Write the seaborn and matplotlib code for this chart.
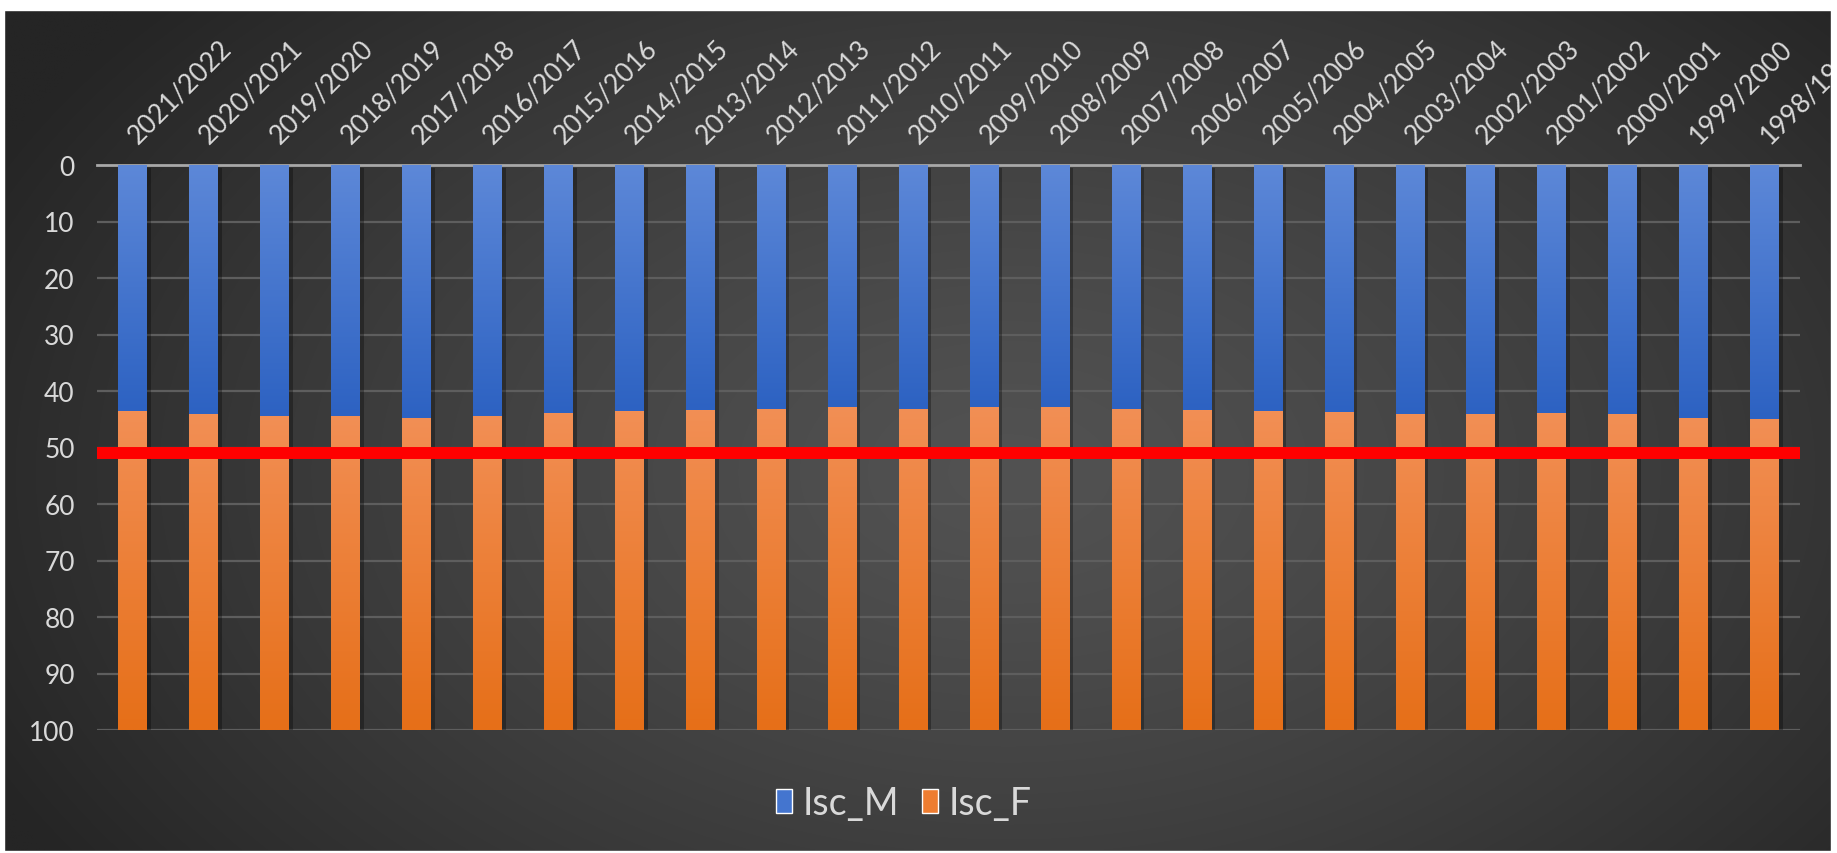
import numpy as np
import pandas as pd
import matplotlib
matplotlib.use("Agg")
import matplotlib.pyplot as plt
import seaborn as sns
from matplotlib.patches import Patch, Rectangle
from matplotlib.colors import LinearSegmentedColormap
import matplotlib.patheffects as pe

# Academic years (most recent first) and share of enrolments by sex (%)
years = ["2021/2022", "2020/2021", "2019/2020", "2018/2019", "2017/2018",
         "2016/2017", "2015/2016", "2014/2015", "2013/2014", "2012/2013",
         "2011/2012", "2010/2011", "2009/2010", "2008/2009", "2007/2008",
         "2006/2007", "2005/2006", "2004/2005", "2003/2004", "2002/2003",
         "2001/2002", "2000/2001", "1999/2000", "1998/1999"]
isc_m = [43.6, 44.1, 44.4, 44.4, 44.7, 44.4, 43.9, 43.6, 43.4, 43.1,
         42.8, 43.1, 42.8, 42.8, 43.1, 43.4, 43.6, 43.8, 44.1, 44.1,
         43.9, 44.1, 44.7, 44.9]
isc_f = [56.4, 55.9, 55.6, 55.6, 55.3, 55.6, 56.1, 56.4, 56.6, 56.9,
         57.2, 56.9, 57.2, 57.2, 56.9, 56.6, 56.4, 56.2, 55.9, 55.9,
         56.1, 55.9, 55.3, 55.1]
parity_level = 50.9
y_ticks = list(range(0, 101, 10))

W, H = 1837, 854
BLUE, ORANGE = "#4475cf", "#ee7d31"
TEXT = "#d9d9d9"

sns.set_theme(style="dark")
plt.rcParams["font.family"] = ["Lato", "DejaVu Sans"]

fig = plt.figure(figsize=(W / 100, H / 100), dpi=100)
fig.patch.set_facecolor("white")

# dark radial-gradient chart area
bg = fig.add_axes([4 / W, 2 / H, (W - 10) / W, (H - 13) / H], zorder=-5)
yy, xx = np.mgrid[0:1:300j, 0:1:600j]
r = np.sqrt(((xx - 0.55) / 0.62) ** 2 + ((yy - 0.45) / 0.85) ** 2)
t = np.clip(r, 0, 1) ** 1.3
c_in, c_out = np.array([0x52, 0x52, 0x52]) / 255, np.array([0x25, 0x25, 0x25]) / 255
img = c_in[None, None, :] * (1 - t[..., None]) + c_out[None, None, :] * t[..., None]
bg.imshow(img, aspect="auto", extent=(0, 1, 0, 1), origin="lower", interpolation="bilinear")
bg.set_axis_off()

ax = fig.add_axes([97 / W, 1 - 731 / H, 1703 / W, 565 / H])
ax.set_facecolor("none")

df = pd.DataFrame({"year": years, "Isc_M": isc_m, "Isc_F": isc_f})
df["total"] = df["Isc_M"] + df["Isc_F"]

sns.barplot(data=df, x="year", y="total", color=ORANGE, saturation=1,
            width=0.40, ax=ax, zorder=2, linewidth=0)
sns.barplot(data=df, x="year", y="Isc_M", color=BLUE, saturation=1,
            width=0.40, ax=ax, zorder=3, linewidth=0)

cm_f = LinearSegmentedColormap.from_list("f", ["#f28f55", "#e66f18"])
cm_m = LinearSegmentedColormap.from_list("m", ["#5d88d8", "#2d62c2"])
grad = np.linspace(0, 1, 256).reshape(-1, 1)

for patch, m, f in zip(ax.containers[0], isc_m, isc_f):
    patch.set_path_effects([pe.SimplePatchShadow(offset=(3, -2), shadow_rgbFace="black", alpha=0.3), pe.Normal()])
    x0, w = patch.get_x(), patch.get_width()
    im = ax.imshow(grad, extent=(x0, x0 + w, m, m + f), origin="lower", aspect="auto",
                   cmap=cm_f, zorder=2.1, interpolation="bilinear")
    im.set_clip_path(patch)
for patch, m in zip(ax.containers[1], isc_m):
    x0, w = patch.get_x(), patch.get_width()
    im = ax.imshow(grad, extent=(x0, x0 + w, 0, m), origin="lower", aspect="auto",
                   cmap=cm_m, zorder=3.1, interpolation="bilinear")
    im.set_clip_path(patch)

ax.axhline(parity_level, color="#ff0000", lw=8.6, zorder=6, solid_capstyle="butt")

ax.set_xlim(-0.5, len(years) - 0.5)
ax.set_ylim(100, 0)
ax.set_yticks(y_ticks)
ax.set_xlabel("")
ax.set_ylabel("")
ax.yaxis.grid(True, color="#5e5e5e", lw=1.6)
ax.xaxis.grid(False)
ax.set_axisbelow(True)
for side in ["left", "right", "bottom"]:
    ax.spines[side].set_visible(False)
ax.spines["top"].set_color("#a8a8a8")
ax.spines["top"].set_linewidth(2)
ax.spines["top"].set_zorder(1)

ax.xaxis.tick_top()
ax.tick_params(axis="x", length=0, pad=19, labelsize=19, colors=TEXT)
ax.tick_params(axis="y", length=0, pad=16, labelsize=19, colors=TEXT)
for lab in ax.get_xticklabels():
    lab.set_rotation(45)
    lab.set_ha("left")
    lab.set_va("center")
    lab.set_rotation_mode("anchor")

handles = [Patch(facecolor=BLUE, label="Isc_M"), Patch(facecolor=ORANGE, label="Isc_F")]
fig.legend(handles=handles, loc="center", bbox_to_anchor=(0.492, 1 - 804 / H), ncol=2,
           frameon=False, fontsize=27, labelcolor=TEXT, handlelength=0.42,
           handleheight=0.62, handletextpad=0.3, columnspacing=0.6)

# white frame around the chart area
for rect in [(0, 1 - 11 / H, 1, 11 / H), (0, 0, 4 / W, 1), (1 - 6 / W, 0, 6 / W, 1), (0, 0, 1, 2 / H)]:
    fig.add_artist(Rectangle(rect[:2], rect[2], rect[3], transform=fig.transFigure,
                             color="white", zorder=20))

fig.savefig("out.png", dpi=100, facecolor=fig.get_facecolor())
